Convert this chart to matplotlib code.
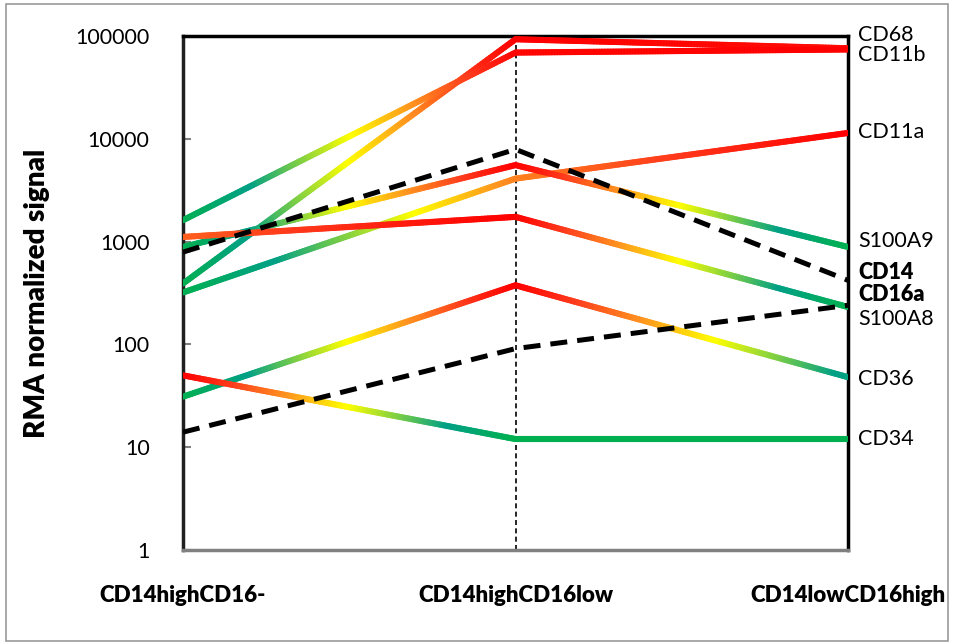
import numpy as np
import matplotlib
matplotlib.use("Agg")
import matplotlib.pyplot as plt
from matplotlib.collections import LineCollection
from matplotlib.colors import LinearSegmentedColormap
from matplotlib.patches import Rectangle

plt.rcParams['font.family'] = ['Lato', 'DejaVu Sans']

# ---------------- data ----------------
categories = ["CD14highCD16-", "CD14highCD16low", "CD14lowCD16high"]

gradient_genes = ["CD68", "CD11b", "CD11a", "S100A9", "S100A8", "CD36", "CD34"]
CD68 = [391, 93000, 76000]
CD11b = [1615, 69000, 74000]
CD11a = [320, 4100, 11400]
S100A9 = [887, 5550, 887]
S100A8 = [1110, 1740, 231]
CD36 = [31, 376, 48]
CD34 = [50, 12, 12]

dashed_genes = ["CD14", "CD16a"]
CD14 = [790, 7900, 420]
CD16a = [14, 91, 240]

gene_values = {"CD68": CD68, "CD11b": CD11b, "CD11a": CD11a, "S100A9": S100A9,
               "S100A8": S100A8, "CD36": CD36, "CD34": CD34,
               "CD14": CD14, "CD16a": CD16a}

label_order = ["CD68", "CD11b", "CD11a", "S100A9", "CD14", "CD16a", "S100A8", "CD36", "CD34"]
label_y = [102000, 65300, 11600, 1017, 506, 307, 178, 46, 12]
bold_labels = {"CD14", "CD16a"}

yticks = [1, 10, 100, 1000, 10000, 100000]

# ---------------- figure ----------------
W, H = 955, 644
fig = plt.figure(figsize=(W / 100, H / 100), dpi=100)
ax = fig.add_axes([183 / W, 1 - 550 / H, (848 - 183) / W, (550 - 36) / H])

fig.patches.append(Rectangle((6 / W, 3 / H), (948 - 6) / W, (640 - 3) / H,
                             transform=fig.transFigure, fill=False,
                             edgecolor='#9a9a9a', linewidth=1.2))

cmap = LinearSegmentedColormap.from_list(
    "rg", [(0.0, '#00B050'), (0.2, '#00A086'), (0.5, '#FFFF00'),
           (0.68, '#FF951F'), (0.85, '#FF3A1C'), (1.0, '#FF0000')])

x = np.arange(len(categories))

ax.set_yscale('log')
ax.set_ylim(1, 100000)
ax.set_xlim(0, 2)

# middle vertical dashed line
ax.axvline(1, color='black', linewidth=1.2, linestyle=(0, (3, 2)), zorder=1)

# gradient lines
for g in gradient_genes:
    v = np.log10(np.array(gene_values[g], dtype=float))
    vmin, vmax = v.min(), v.max()
    xs_all, ls_all = [], []
    for i in range(len(x) - 1):
        t = np.linspace(0, 1, 120)
        xs_all.append(x[i] + t * (x[i + 1] - x[i]))
        ls_all.append(v[i] + t * (v[i + 1] - v[i]))
    xs = np.concatenate(xs_all)
    ls = np.concatenate(ls_all)
    pts = np.column_stack([xs, 10 ** ls])
    segs = np.stack([pts[:-1], pts[1:]], axis=1)
    mid = (ls[:-1] + ls[1:]) / 2
    norm = (mid - vmin) / (vmax - vmin) if vmax > vmin else np.zeros_like(mid)
    lc = LineCollection(segs, colors=cmap(norm), linewidths=4.4,
                        capstyle='round', joinstyle='round', zorder=3)
    ax.add_collection(lc)

# dashed black lines
for g in dashed_genes:
    ax.plot(x, gene_values[g], color='black', linewidth=3.6,
            linestyle=(0, (3.4, 2.0)), zorder=4, dash_capstyle='butt')

# right labels
for name, yv in zip(label_order, label_y):
    ax.text(2.0 + 10 / 665 * 2, yv, name, fontsize=15.5,
            fontweight='heavy' if name in bold_labels else 'normal',
            va='center', ha='left', clip_on=False, color='black')

# axes styling
ax.set_yticks(yticks)
ax.set_yticklabels([str(v) for v in yticks])
ax.yaxis.set_minor_locator(matplotlib.ticker.NullLocator())
ax.tick_params(axis='y', which='major', direction='in', length=6, width=1.5,
               color='#808080', labelsize=15.5, pad=24)
ax.set_xticks(x)
ax.set_xticklabels(categories, fontweight='heavy')
ax.tick_params(axis='x', which='major', length=0, labelsize=16, pad=25)

for side in ['top', 'right']:
    ax.spines[side].set_linewidth(2.5)
    ax.spines[side].set_color('black')
ax.spines['left'].set_linewidth(2.5)
ax.spines['left'].set_color('#202020')
ax.spines['bottom'].set_linewidth(2.5)
ax.spines['bottom'].set_color('#808080')

ax.set_ylabel("RMA normalized signal", fontsize=20, fontweight='heavy')
ax.yaxis.set_label_coords(-133 / 665, 0.5)

fig.savefig("out.png", dpi=100)
